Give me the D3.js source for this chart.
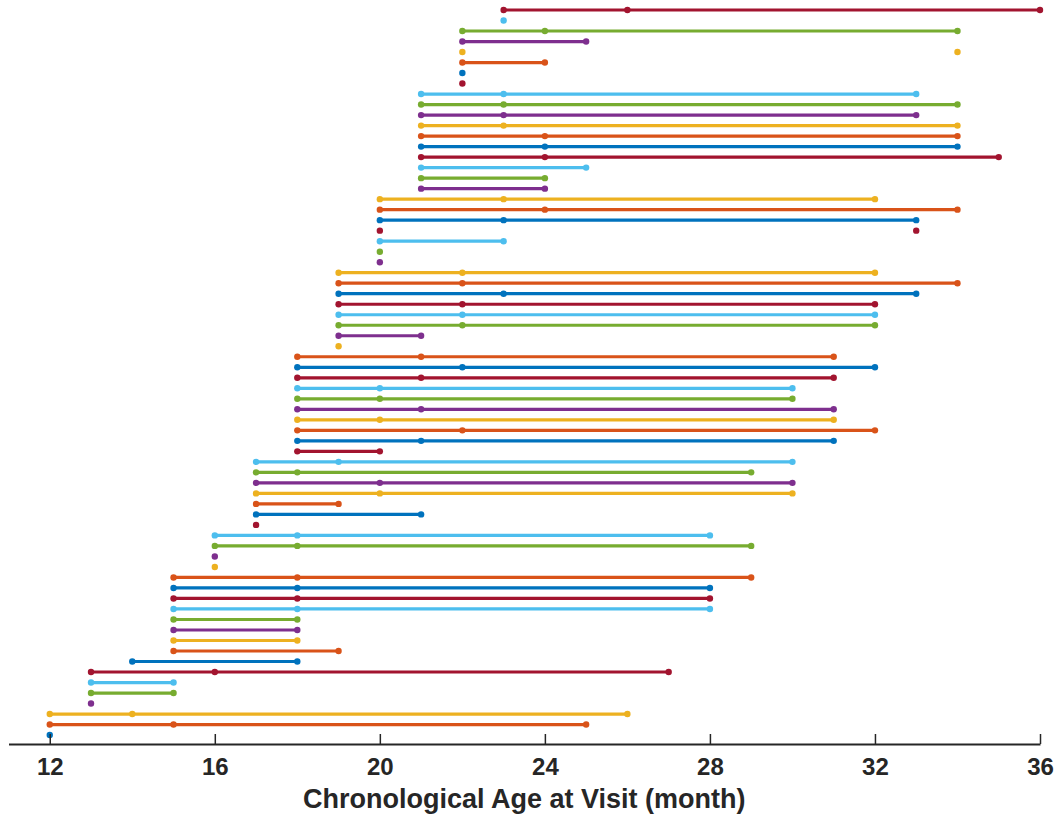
<!DOCTYPE html>
<html>
<head>
<meta charset="utf-8">
<script src="https://cdn.jsdelivr.net/npm/d3@7"></script>
<style>
  html, body { margin: 0; padding: 0; background: #fff; overflow: hidden; }
  svg { display: block; }
  text { font-family: "Liberation Sans", Arial, sans-serif; font-weight: bold; fill: #262626; }
</style>
</head>
<body>
<svg width="1058" height="819"></svg>
<script>
"use strict";

// one row per subject, bottom to top; null = missed visit (no connecting line)
const visits = [
  [12], [12, 15, 25], [12, 14, 26], [13], [13, 15], [13, 15], [13, 16, 27],
  [14, 18], [15, 19], [15, 18], [15, 18], [15, 18], [15, 18, 28], [15, 18, 28],
  [15, 18, 28], [15, 18, 29], [16], [16], [16, 18, 29], [16, 18, 28], [17],
  [17, 21], [17, 19], [17, 20, 30], [17, 20, 30], [17, 18, 29], [17, 19, 30], [18, 20],
  [18, 21, 31], [18, 22, 32], [18, 20, 31], [18, 21, 31], [18, 20, 30], [18, 20, 30], [18, 21, 31],
  [18, 22, 32], [18, 21, 31], [19], [19, 21], [19, 22, 32], [19, 22, 32], [19, 22, 32],
  [19, 23, 33], [19, 22, 34], [19, 22, 32], [20], [20], [20, 23], [20, null, 33],
  [20, 23, 33], [20, 24, 34], [20, 23, 32], [21, 24], [21, 24], [21, 25], [21, 24, 35],
  [21, 24, 34], [21, 24, 34], [21, 23, 34], [21, 23, 33], [21, 23, 34], [21, 23, 33], [22],
  [22], [22, 24], [22, null, 34], [22, 25], [22, 24, 34], [23], [23, 26, 36]
];

const colors = ["#0072BD", "#D95319", "#EDB120", "#7E2F8E", "#77AC30", "#4DBEEE", "#A2142F"];
const xTicks = [12, 16, 20, 24, 28, 32, 36];
const xAxisLabel = "Chronological Age at Visit (month)";

const svg = d3.select("svg");
const width = +svg.attr("width");
const height = +svg.attr("height");
const margin = { top: 10, right: 18, bottom: 75, left: 8.5 };
const innerWidth = width - margin.left - margin.right;
const innerHeight = height - margin.top - margin.bottom;

const xScale = d3.scaleLinear().domain([11, 36]).range([0, innerWidth]);
const yScale = d3.scaleLinear().domain([0.15, visits.length]).range([innerHeight, 0]);

const g = svg.append("g").attr("transform", `translate(${margin.left},${margin.top})`);

const rows = visits.map((v, i) => ({
  row: i + 1,
  color: colors[i % colors.length],
  points: v.map(x => (x === null ? null : { x, y: i + 1 }))
}));

const line = d3
  .line()
  .defined(d => d !== null)
  .x(d => xScale(d.x))
  .y(d => yScale(d.y));

const rowG = g
  .selectAll(".subject")
  .data(rows)
  .enter()
  .append("g")
  .attr("class", "subject");

rowG
  .append("path")
  .attr("d", d => line(d.points))
  .attr("fill", "none")
  .attr("stroke", d => d.color)
  .attr("stroke-width", 3.2);

rowG
  .selectAll("circle")
  .data(d => d.points.filter(p => p !== null).map(p => ({ ...p, color: d.color })))
  .enter()
  .append("circle")
  .attr("cx", d => xScale(d.x))
  .attr("cy", d => yScale(d.y))
  .attr("r", 3.2)
  .attr("fill", d => d.color);

const xAxis = d3
  .axisBottom(xScale)
  .tickValues(xTicks)
  .tickSizeInner(-10)
  .tickSizeOuter(0)
  .tickPadding(14)
  .tickFormat(d3.format("d"));

const xAxisG = g
  .append("g")
  .attr("transform", `translate(0,${innerHeight})`)
  .call(xAxis);

xAxisG.attr("font-size", null).attr("font-family", null);
xAxisG.select(".domain").attr("stroke", "#262626").attr("stroke-width", 2);
xAxisG.selectAll(".tick line").attr("stroke", "#262626").attr("stroke-width", 1.5);
xAxisG.selectAll(".tick text").attr("fill", "#262626").style("font-size", "24px");

g.append("text")
  .attr("x", xScale(23.5))
  .attr("y", innerHeight + 64)
  .attr("text-anchor", "middle")
  .style("font-size", "27px")
  .text(xAxisLabel);
</script>
</body>
</html>
